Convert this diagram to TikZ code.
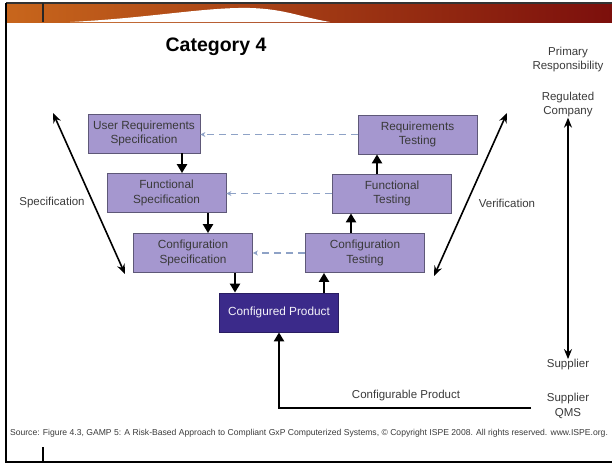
\documentclass[tikz,border=0pt]{standalone}
\usepackage{fontspec}
\setmainfont{Liberation Sans}
\usetikzlibrary{arrows.meta}
\definecolor{boxfill}{HTML}{A597CF}
\definecolor{boxline}{HTML}{5E5878}
\definecolor{prodfill}{HTML}{3B2A8A}
\definecolor{tracecol}{HTML}{8EA2C6}
\definecolor{labelcol}{HTML}{3A3A3A}
\definecolor{bandleft}{HTML}{C8661C}
\definecolor{bandright}{HTML}{7C0F0C}
\tikzset{
  stage/.style={draw=boxline, line width=0.8pt, fill=boxfill, text=labelcol, align=center,
    minimum width=119pt, minimum height=39pt, inner sep=2pt,
    font=\fontsize{11.8}{14.8}\selectfont},
  product/.style={stage, fill=prodfill, draw=prodfill!70!black, text=white!88!boxfill},
  lbl/.style={text=labelcol, align=center, font=\fontsize{11.5}{14.5}\selectfont},
  flow/.style={line width=2.8pt, -{Triangle[width=10pt,length=9pt]}},
  trace/.style={draw=tracecol, line width=1.1pt, dash pattern=on 7pt off 5pt, -{Stealth[length=5pt,width=5pt]}},
  span/.style={line width=1.6pt, {Stealth[length=10pt,width=8pt]}-{Stealth[length=10pt,width=8pt]}}
}
\begin{document}
\begin{tikzpicture}[x=1pt,y=-1pt]
	\useasboundingbox (0,0) rectangle (612,463);

	% header band
	\shade[left color=bandleft, right color=bandright] (6,3) rectangle (612,22);
	\fill[white] (70,22) .. controls (150,18) and (205,7) .. (250,8) .. controls (285,9) and (300,17) .. (330,22) -- cycle;
	\draw[line width=1.5pt, black!80] (6,3) -- (612,3);

	% frame
	\draw[line width=2pt] (6,3) -- (6,462) -- (612,462);
	\draw[line width=2.5pt, black!85] (43,3) -- (43,22);
	\draw[line width=2pt] (43,447) -- (43,462);

	% title
	\node[text=black, font=\fontsize{19.5}{22}\selectfont\bfseries] (title) at (216,47) {Category 4};

	% left leg
	\node[stage, minimum width=112pt] (urs) at (144,133.5) {User Requirements\\Specification};
	\node[stage] (fs) at (166.5,193) {Functional\\Specification};
	\node[stage] (cs) at (193,253) {Configuration\\Specification};

	% right leg
	\node[stage] (rt) at (417.5,134.5) {Requirements\\Testing};
	\node[stage] (ft) at (392,193.5) {Functional\\Testing};
	\node[stage] (ct) at (365,253) {Configuration\\Testing};

	% bottom
	\node[product] (cp) at (279,312.5) {Configured Product};

	% flow down and up
	\draw[flow] ([xshift=38pt]urs.south) -- ([xshift=38pt]urs.south |- fs.north);
	\draw[flow] ([xshift=41.5pt]fs.south) -- ([xshift=41.5pt]fs.south |- cs.north);
	\draw[flow] ([xshift=42pt]cs.south) -- ([xshift=42pt]cs.south |- cp.north);
	\draw[flow] ([xshift=45pt]cp.north) -- ([xshift=45pt]cp.north |- ct.south);
	\draw[flow] ([xshift=-14pt]ct.north) -- ([xshift=-14pt]ct.north |- ft.south);
	\draw[flow] ([xshift=-15pt]ft.north) -- ([xshift=-15pt]ft.north |- rt.south);

	% traceability
	\draw[trace] (rt.west) -- (rt.west -| urs.east);
	\draw[trace] (ft.west) -- (ft.west -| fs.east);
	\draw[trace] (ct.west) -- (ct.west -| cs.east);

	% specification / verification
	\coordinate (spectop) at (53,113);
	\coordinate (specbot) at (125,274);
	\coordinate (vertop) at (507,113);
	\coordinate (verbot) at (434,276);
	\draw[span] (spectop) -- (specbot);
	\draw[span] (verbot) -- (vertop);
	\node[lbl] (spec) at (52,203) {Specification};
	\node[lbl] (ver) at (507,203) {Verification};

	% responsibility
	\node[lbl] (resp) at (568,59.5) {Primary\\Responsibility};
	\node[lbl] (regco) at (568,104.5) {Regulated\\Company};
	\node[lbl] (supp) at (568,365) {Supplier};
	\node[lbl] (qms) at (568,406) {Supplier\\QMS};
	\draw[span] ([yshift=3pt]regco.south) -- ([yshift=-3pt]supp.north);

	% configurable product
	\coordinate (qmsend) at (531,408);
	\draw[flow] (qmsend) -| (cp.south);
	\node[lbl] (confprod) at (406,396) {Configurable Product};

	% source
	\node[text=labelcol, font=\fontsize{8.6}{10}\selectfont, inner sep=0pt] (source) at (309,433)
		{Source: Figure 4.3, GAMP 5: A Risk-Based Approach to Compliant GxP Computerized Systems, \textcopyright{} Copyright ISPE 2008. All rights reserved. www.ISPE.org.};

\end{tikzpicture}
\end{document}
